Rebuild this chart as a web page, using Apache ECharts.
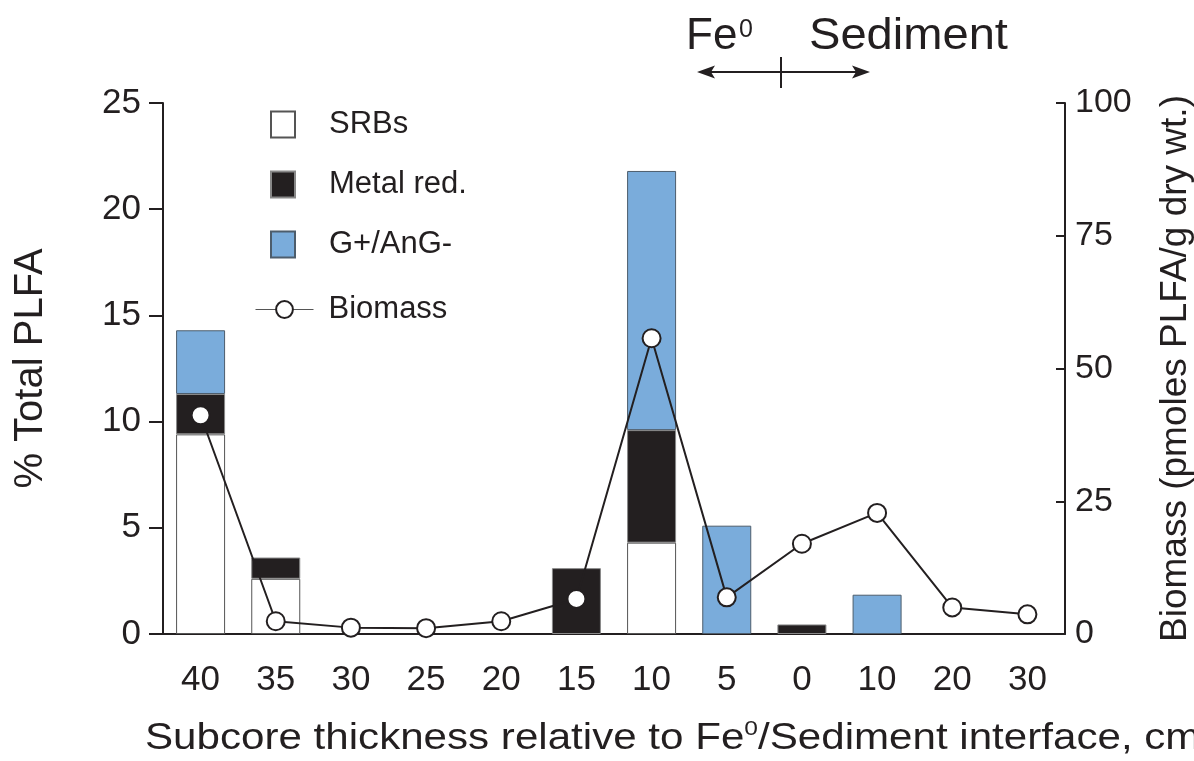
<!DOCTYPE html>
<html>
<head>
<meta charset="utf-8">
<script src="https://cdn.jsdelivr.net/npm/echarts@6/dist/echarts.min.js"></script>
<style>
html,body{margin:0;padding:0;background:#fff;}
#chart{width:1194px;height:761px;}
</style>
</head>
<body>
<div id="chart"></div>
<script>
// ---- data ----
const categories = ['40', '35', '30', '25', '20', '15', '10', '5', '0', '10', '20', '30'];
const srbs     = [9.4, 2.6, 0, 0, 0, 0,   4.3,  0,   0,    0,    0, 0];
const metalRed = [1.9, 1.0, 0, 0, 0, 3.1, 5.3,  0,   0.45, 0,    0, 0];
const gPlus    = [3.0, 0,   0, 0, 0, 0,   12.2, 5.1, 0,    1.85, 0, 0];
const biomass  = [41.2, 2.4, 1.2, 1.1, 2.4, 6.6, 55.7, 6.9, 17.0, 22.8, 5.0, 3.7];
const leftAxis  = {min: 0, max: 25, interval: 5};
const rightAxis = {min: 0, max: 100, interval: 25};

const INK = '#231f20';
const FONT = '"Liberation Sans", Arial, Helvetica, sans-serif';
const noZero = arr => arr.map(v => (v === 0 ? '-' : v));

const chart = echarts.init(document.getElementById('chart'), null, {renderer: 'canvas'});

const option = {
  backgroundColor: '#fff',
  animation: false,
  textStyle: {fontFamily: FONT, color: INK},
  grid: {left: 163, right: 129, top: 103, bottom: 127, containLabel: false, outerBoundsMode: 'none'},
  legend: [
    {
      data: ['SRBs', 'Metal red.', 'G+/AnG-'],
      orient: 'vertical',
      left: 270, top: 109,
      padding: 0,
      icon: 'rect',
      itemWidth: 24, itemHeight: 26, itemGap: 29,
      textStyle: {fontSize: 31, color: INK, fontFamily: FONT, padding: [0, 0, 0, 29]},
      selectedMode: false
    },
    {
      data: ['Biomass'],
      orient: 'vertical',
      left: 255, top: 294,
      padding: 0,
      itemWidth: 58, itemHeight: 21,
      lineStyle: {width: 1, color: '#555'},
      textStyle: {fontSize: 31, color: INK, fontFamily: FONT, padding: [0, 0, 0, 10]},
      selectedMode: false
    }
  ],
  xAxis: {
    type: 'category',
    data: categories,
    boundaryGap: true,
    axisLine: {lineStyle: {color: INK, width: 2}},
    axisTick: {alignWithLabel: true, length: 12, lineStyle: {color: INK, width: 2}},
    axisLabel: {fontSize: 35, color: INK, margin: 29, fontFamily: FONT},
    splitLine: {show: false}
  },
  yAxis: [
    {
      type: 'value',
      min: leftAxis.min, max: leftAxis.max, interval: leftAxis.interval,
      position: 'left',
      name: '% Total PLFA',
      nameLocation: 'middle',
      nameGap: 112,
      nameRotate: 90,
      nameTextStyle: {fontSize: 40, color: INK, fontFamily: FONT},
      axisLine: {show: true, lineStyle: {color: INK, width: 2}},
      axisTick: {show: true, length: 14, lineStyle: {color: INK, width: 2}},
      axisLabel: {fontSize: 35, color: INK, margin: 22, fontFamily: FONT},
      splitLine: {show: false}
    },
    {
      type: 'value',
      min: rightAxis.min, max: rightAxis.max, interval: rightAxis.interval,
      position: 'right',
      name: 'Biomass (pmoles PLFA/g dry wt.)',
      nameLocation: 'middle',
      nameGap: 92,
      nameRotate: 90,
      nameTextStyle: {fontSize: 37, color: INK, fontFamily: FONT},
      axisLine: {show: true, lineStyle: {color: INK, width: 2}},
      axisTick: {show: true, inside: true, length: 9, lineStyle: {color: INK, width: 2}},
      axisLabel: {fontSize: 34, color: INK, margin: 10, fontFamily: FONT},
      splitLine: {show: false}
    }
  ],
  series: [
    {
      name: 'SRBs', type: 'bar', stack: 'plfa', yAxisIndex: 0,
      barWidth: 49,
      data: noZero(srbs),
      itemStyle: {color: '#ffffff', borderColor: '#555', borderWidth: 1}
    },
    {
      name: 'Metal red.', type: 'bar', stack: 'plfa', yAxisIndex: 0,
      barWidth: 49,
      data: noZero(metalRed),
      itemStyle: {color: INK, borderColor: '#888', borderWidth: 1}
    },
    {
      name: 'G+/AnG-', type: 'bar', stack: 'plfa', yAxisIndex: 0,
      barWidth: 49,
      data: noZero(gPlus),
      itemStyle: {color: '#7aacdb', borderColor: '#4d5d6c', borderWidth: 1}
    },
    {
      name: 'Biomass', type: 'line', yAxisIndex: 1,
      data: biomass,
      z: 5,
      symbol: 'circle', symbolSize: 18,
      lineStyle: {color: INK, width: 2},
      itemStyle: {color: '#ffffff', borderColor: INK, borderWidth: 2}
    }
  ],
  graphic: [
    // x axis line extends a bit left of the y axis
    {type: 'line', shape: {x1: 152, y1: 634, x2: 164, y2: 634}, style: {stroke: INK, lineWidth: 2}, z: 10},
    // x-axis title with superscript
    {
      type: 'text', x: 145, y: 739, scaleX: 1.17, z: 10,
      style: {
        text: '{a|Subcore thickness relative to Fe}{s|0}{a|/Sediment interface, cm}',
        align: 'left', verticalAlign: 'middle',
        rich: {
          a: {fontSize: 36, fontFamily: FONT, fill: INK, color: INK, lineHeight: 40},
          s: {fontSize: 21, fontFamily: FONT, fill: INK, color: INK, verticalAlign: 'top', lineHeight: 40}
        }
      }
    },
    // top annotation: Fe0 <-|-> Sediment
    {type: 'text', x: 686, y: 37, z: 10, style: {text: 'Fe', fontSize: 44, fontFamily: FONT, fill: INK, align: 'left', verticalAlign: 'middle'}},
    {type: 'text', x: 739, y: 30, z: 10, style: {text: '0', fontSize: 25, fontFamily: FONT, fill: INK, align: 'left', verticalAlign: 'middle'}},
    {type: 'text', x: 809, y: 37, scaleX: 1.07, z: 10, style: {text: 'Sediment', fontSize: 44, fontFamily: FONT, fill: INK, align: 'left', verticalAlign: 'middle'}},
    {type: 'line', shape: {x1: 708, y1: 72, x2: 859, y2: 72}, style: {stroke: INK, lineWidth: 2}, z: 10},
    {type: 'polygon', shape: {points: [[697, 72], [715, 65.5], [711, 72], [715, 78.5]]}, style: {fill: INK}, z: 10},
    {type: 'polygon', shape: {points: [[870, 72], [852, 65.5], [856, 72], [852, 78.5]]}, style: {fill: INK}, z: 10},
    {type: 'line', shape: {x1: 781, y1: 57, x2: 781, y2: 88}, style: {stroke: INK, lineWidth: 2}, z: 10}
  ]
};

chart.setOption(option);
</script>
</body>
</html>
